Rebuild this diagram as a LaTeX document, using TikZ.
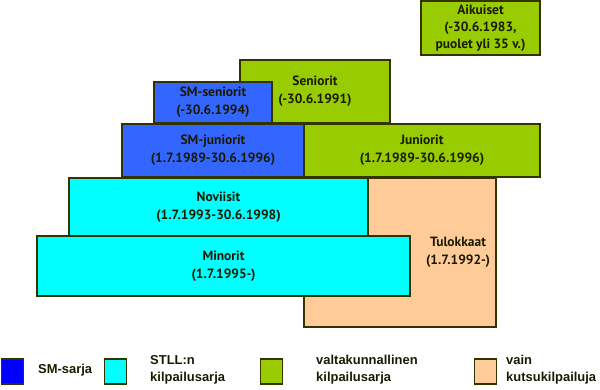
\documentclass[tikz,border=0pt]{standalone}
\usepackage{fontspec}
\setmainfont{PT Sans}
\newfontfamily\legendfont{Liberation Sans}
\definecolor{smblue}{HTML}{3366FF}
\definecolor{legblue}{HTML}{0000FF}
\definecolor{stllcyan}{HTML}{00FFFF}
\definecolor{valtagreen}{HTML}{99CC00}
\definecolor{kutsuorange}{HTML}{FFCC99}
\definecolor{edge}{HTML}{333300}
\definecolor{ink}{HTML}{1A1A00}
\tikzset{
  sarja/.style={draw=edge,line width=1.6bp,rectangle,inner sep=0pt,outer sep=0pt,
    align=center,text=ink,font=\bfseries\fontsize{13.5}{18}\selectfont},
  legbox/.style={draw=edge,line width=1.6bp,rectangle,inner sep=0pt,
    minimum width=22bp,minimum height=25bp},
  legtext/.style={anchor=west,align=left,inner sep=0pt,text=ink,
    font=\legendfont\bfseries\fontsize{13}{17}\selectfont}
}

\begin{document}
\begin{tikzpicture}[x=1bp,y=-1bp]
  \useasboundingbox (0,0) rectangle (600,389);
  % sarjat
  \node[sarja,fill=valtagreen,minimum width=119bp,minimum height=54bp,
    font=\bfseries\fontsize{13.5}{17}\selectfont] (aik) at (480.5,28) {Aikuiset\\(-30.6.1983,\\puolet yli 35 v.)};
  \node[sarja,fill=valtagreen,minimum width=150bp,minimum height=63bp] (sen) at (315,91.5) {Seniorit\\(-30.6.1991)};
  \node[sarja,fill=smblue,minimum width=118bp,minimum height=41bp] (smsen) at (213,102.5) {SM-seniorit\\(-30.6.1994)};
  \node[sarja,fill=smblue,minimum width=182bp,minimum height=53bp] (smjun) at (213,150.5) {SM-juniorit\\(1.7.1989-30.6.1996)};
  \node[sarja,fill=valtagreen,minimum width=236bp,minimum height=53bp] (jun) at (422,150.5) {Juniorit\\(1.7.1989-30.6.1996)};
  \node[sarja,fill=kutsuorange,minimum width=192bp,minimum height=149bp] (tul) at (400,252.5) {};
  \node[sarja,fill=stllcyan,minimum width=299bp,minimum height=58bp] (nov) at (218.5,207) {Noviisit\\(1.7.1993-30.6.1998)};
  \node[sarja,fill=stllcyan,minimum width=373bp,minimum height=60bp] (min) at (223.5,266) {Minorit\\(1.7.1995-)};
  \node[sarja,draw=none] (tultext) at (458,252) {Tulokkaat\\(1.7.1992-)};
  % selitteet
  \node[legbox,fill=legblue] (lsm) at (12.5,371.5) {};
  \node[legtext] (tsm) at (38,370) {SM-sarja};
  \node[legbox,fill=stllcyan] (lstll) at (115.5,371.5) {};
  \node[legtext] (tstll) at (150,370) {STLL:n\\kilpailusarja};
  \node[legbox,fill=valtagreen] (lvalta) at (271.5,371.5) {};
  \node[legtext] (tvalta) at (316,370) {valtakunnallinen\\kilpailusarja};
  \node[legbox,fill=kutsuorange] (lkutsu) at (485.5,371.5) {};
  \node[legtext] (tkutsu) at (506,370) {vain\\kutsukilpailuja};
\end{tikzpicture}
\end{document}
